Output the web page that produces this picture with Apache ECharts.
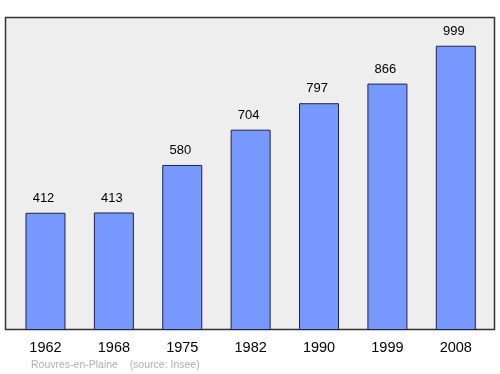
<!DOCTYPE html>
<html><head><meta charset="utf-8">
<script src="https://cdn.jsdelivr.net/npm/echarts@6/dist/echarts.min.js"></script>
<style>html,body{margin:0;padding:0;background:#fff}#c{width:500px;height:374px}</style>
</head><body><div id="c"></div>
<script>
var years = ['1962','1968','1975','1982','1990','1999','2008'];
var population = [412,413,580,704,797,866,999];
var sourceText = 'Rouvres-en-Plaine    (source: Insee)';

var chart = echarts.init(document.getElementById('c'), null, {renderer:'canvas'});
chart.setOption({
  animation: false,
  graphic: [
    {type:'rect', z:-10, shape:{x:5.5,y:17.5,width:489,height:312},
     style:{fill:'#eeeeee', stroke:'#333333', lineWidth:1.5}},
    {type:'text', left:31, top:359.5, style:{text:sourceText, fill:'#b0b0b0', font:'10.5px "Liberation Sans", Arial, sans-serif'}}
  ],
  grid: {left:11.3, right:10, top:17, bottom:44},
  xAxis: {
    type:'category', data: years,
    axisLine:{show:false}, axisTick:{show:false},
    axisLabel:{color:'#000', fontSize:14.5, margin:10, fontFamily:'"Liberation Sans", Arial, sans-serif'}
  },
  yAxis: {
    type:'value', min:0, max:1100,
    axisLine:{show:false}, axisTick:{show:false}, axisLabel:{show:false}, splitLine:{show:false}
  },
  series: [{
    type:'bar', data: population, barWidth:40,
    itemStyle:{color:'#7799ff', borderColor:'#222244', borderWidth:1},
    label:{show:true, position:'top', distance:8, offset:[-2,0], color:'#000', fontSize:13, fontFamily:'"Liberation Sans", Arial, sans-serif'}
  }]
});
</script></body></html>
